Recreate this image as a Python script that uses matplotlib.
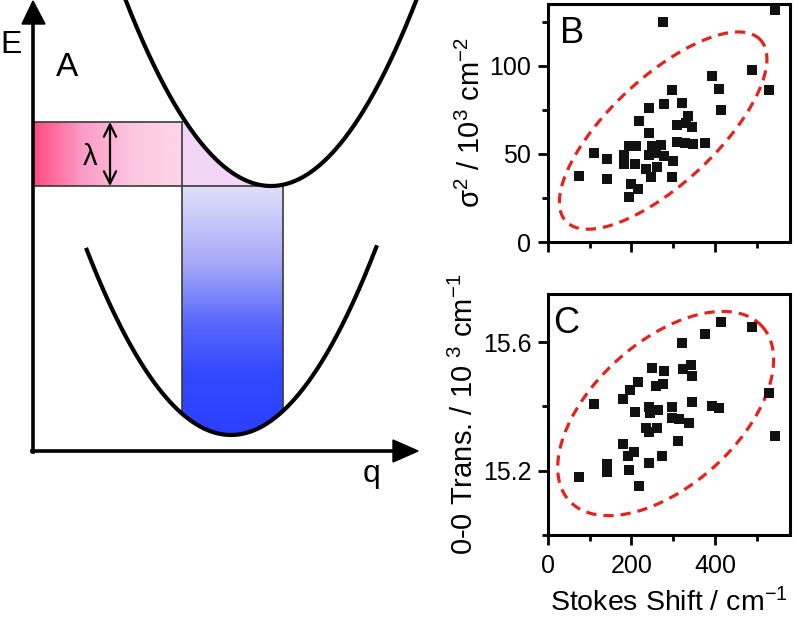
import numpy as np
import matplotlib
matplotlib.use('Agg')
import matplotlib.pyplot as plt
from matplotlib.colors import LinearSegmentedColormap
from matplotlib.patches import Polygon
from matplotlib.ticker import MultipleLocator, FormatStrFormatter

plt.rcParams['font.family'] = ['Liberation Sans', 'DejaVu Sans']
plt.rcParams['mathtext.default'] = 'regular'

# panel B: Stokes shift vs sigma^2
b_shift = [275, 544, 488, 394, 411, 529, 414, 296, 279, 322, 242, 218, 336, 310, 330,
           344, 242, 310, 328, 347, 376, 194, 210, 250, 272, 110, 142, 182, 242, 258,
           278, 182, 208, 299, 235, 262, 74, 142, 246, 298, 198, 215, 194]
b_sigma2 = [124.6, 131.4, 97.4, 94.0, 87.0, 86.4, 74.6, 86.0, 78.4, 79.1, 75.8, 68.9, 71.2, 66.5, 67.4,
            65.5, 62.1, 57.0, 56.4, 55.7, 56.0, 54.2, 54.7, 54.2, 55.1, 50.4, 47.0, 49.4, 49.4, 50.4,
            48.9, 44.3, 44.3, 46.0, 41.3, 42.8, 37.5, 35.6, 37.1, 37.1, 33.0, 30.3, 25.7]

# panel C: Stokes shift vs 0-0 transition
c_shift = [414, 488, 376, 322, 342, 323, 344, 250, 279, 215, 275, 258, 196, 180, 110,
           529, 346, 392, 410, 242, 263, 208, 244, 298, 296, 314, 338, 235, 262, 242,
           544, 311, 180, 206, 192, 274, 142, 142, 194, 242, 74, 218]
c_trans = [15.663, 15.647, 15.626, 15.598, 15.528, 15.517, 15.494, 15.519, 15.510, 15.476,
           15.469, 15.464, 15.450, 15.422, 15.407, 15.443, 15.414, 15.402, 15.396, 15.398,
           15.388, 15.383, 15.381, 15.398, 15.365, 15.360, 15.350, 15.334, 15.334, 15.319,
           15.309, 15.291, 15.283, 15.257, 15.247, 15.247, 15.221, 15.197, 15.202, 15.223,
           15.179, 15.153]

# guide ellipses: centre (data), semi-axes (px), tilt (deg)
ell_b = dict(center=(276, 63.2), a=133, b=53, angle=43)
ell_c = dict(center=(282, 15.378), a=130, b=72, angle=42)

fig = plt.figure(figsize=(7.96, 6.21), dpi=100)

# ---------- panel A: schematic, drawn in pixel units ----------
axa = fig.add_axes([0, 0, 440 / 796, 1])
axa.set_xlim(0, 440)
axa.set_ylim(621, 0)
axa.axis('off')


def upper(x):
    return 186 - 0.0088 * (x - 271) ** 2


def lower(x):
    return 435 - 0.0089 * (x - 231) ** 2


box_l, box_r, blue_r = 33, 182, 283
top_y, bot_y = 122, 186

# pink horizontal gradient
pink = LinearSegmentedColormap.from_list('pink', ['#ff4a82', '#fc9cc6', '#fdc6e1', '#fdd6ea'])
axa.imshow(np.linspace(0, 1, 256).reshape(1, -1), cmap=pink, aspect='auto',
           extent=(box_l, box_r, bot_y, top_y), zorder=1)

# lavender wedge under the upper curve
xs = np.linspace(box_r, 271, 100)
axa.fill_between(xs, np.maximum(upper(xs), top_y), bot_y, color='#f3d6f7', lw=0, zorder=1)

# blue vertical gradient clipped by the lower curve
blue = LinearSegmentedColormap.from_list(
    'blue', [(0, '#e0e0fa'), (0.3, '#a8abf7'), (0.55, '#5868fc'), (0.75, '#3248fe'), (1, '#2a40ff')])
im = axa.imshow(np.linspace(0, 1, 256).reshape(-1, 1), cmap=blue, aspect='auto',
                extent=(box_r, blue_r, 436, bot_y), zorder=1)
xc = np.linspace(blue_r, box_r, 100)
clip = Polygon(np.vstack([[[box_r, bot_y], [blue_r, bot_y]], np.column_stack([xc, lower(xc)])]),
               closed=True, transform=axa.transData)
im.set_clip_path(clip)

# box outlines
ol = dict(color='#3a3a3a', lw=1.2, zorder=2)
axa.plot([box_l, box_r], [top_y, top_y], **ol)
axa.plot([box_l, blue_r], [bot_y, bot_y], **ol)
axa.plot([box_r, box_r], [top_y, lower(box_r)], **ol)
axa.plot([blue_r, blue_r], [bot_y, lower(blue_r)], **ol)

# potential curves
xu = np.linspace(118, 425, 300)
axa.plot(xu, upper(xu), color='black', lw=3, zorder=3, solid_capstyle='butt')
xl = np.linspace(86, 377, 300)
axa.plot(xl, lower(xl), color='black', lw=3, zorder=3, solid_capstyle='butt')

# axes arrows
axa.plot([33, 33], [452, 22], color='black', lw=2.6, zorder=3)
axa.plot([32, 395], [451, 451], color='black', lw=2.6, zorder=3)
axa.add_patch(Polygon([[22, 24], [45, 24], [33, 1]], closed=True, color='black', zorder=3))
axa.add_patch(Polygon([[393, 440], [393, 462], [418, 451]], closed=True, color='black', zorder=3))

# lambda double arrow
axa.annotate('', xy=(110, top_y), xytext=(110, bot_y),
             arrowprops=dict(arrowstyle='<->', lw=1.6, color='black', mutation_scale=22,
                             shrinkA=0, shrinkB=0), zorder=4)
axa.text(90, 157, 'λ', fontsize=21, ha='center', va='center', zorder=4)

axa.text(11, 45, 'E', fontsize=23, ha='center', va='center')
axa.text(67, 68, 'A', fontsize=24, ha='center', va='center')
axa.text(372, 474, 'q', fontsize=23, ha='center', va='center')


# ---------- panels B and C ----------
def style(ax):
    for s in ax.spines.values():
        s.set_linewidth(2.2)
    ax.tick_params(which='major', direction='out', length=7, width=2, labelsize=18, pad=5)
    ax.tick_params(which='minor', direction='out', length=4, width=2)
    ax.tick_params(axis='x', which='major', pad=7)
    ax.xaxis.set_major_locator(MultipleLocator(200))
    ax.xaxis.set_minor_locator(MultipleLocator(100))
    ax.set_xlim(0, 580)


def draw_ellipse(ax, center, a, b, angle):
    t = np.linspace(0, 2 * np.pi, 400)
    th = np.deg2rad(angle)
    dx = a * np.cos(t) * np.cos(th) - b * np.sin(t) * np.sin(th)
    dy = a * np.cos(t) * np.sin(th) + b * np.sin(t) * np.cos(th)
    c = ax.transData.transform(center)
    pts = ax.transData.inverted().transform(np.column_stack([c[0] + dx, c[1] + dy]))
    ax.plot(pts[:, 0], pts[:, 1], color='#e3231c', lw=2.3, ls=(0, (3.2, 2.2)), zorder=2)


axb = fig.add_axes([548 / 796, (621 - 242) / 621, 242 / 796, 238 / 621])
style(axb)
axb.set_ylim(0, 135)
axb.yaxis.set_major_locator(MultipleLocator(50))
axb.yaxis.set_minor_locator(MultipleLocator(25))
axb.tick_params(axis='x', labelbottom=False)
axb.scatter(b_shift, b_sigma2, marker='s', s=50, color='#111111', lw=0, zorder=3)
axb.text(0.05, 0.95, 'B', transform=axb.transAxes, fontsize=26, ha='left', va='top')
axb.set_ylabel('σ$^2$ / 10$^3$ cm$^{-2}$', fontsize=21)
axb.yaxis.set_label_coords(-0.255, 0.5)

axc = fig.add_axes([548 / 796, (621 - 535) / 621, 242 / 796, 241 / 621])
style(axc)
axc.set_ylim(15.0, 15.75)
axc.yaxis.set_major_locator(MultipleLocator(0.4))
axc.yaxis.set_minor_locator(MultipleLocator(0.2))
axc.yaxis.set_major_formatter(FormatStrFormatter('%.1f'))
axc.scatter(c_shift, c_trans, marker='s', s=50, color='#111111', lw=0, zorder=3)
axc.text(0.02, 0.95, 'C', transform=axc.transAxes, fontsize=26, ha='left', va='top')
axc.set_ylabel('0-0 Trans. / 10 $^3$ cm$^{-1}$', fontsize=21)
axc.yaxis.set_label_coords(-0.285, 0.5)
axc.set_xlabel('Stokes Shift / cm$^{-1}$', fontsize=20.5, labelpad=7)

draw_ellipse(axb, **ell_b)
draw_ellipse(axc, **ell_c)

fig.savefig('out.png', dpi=100)
